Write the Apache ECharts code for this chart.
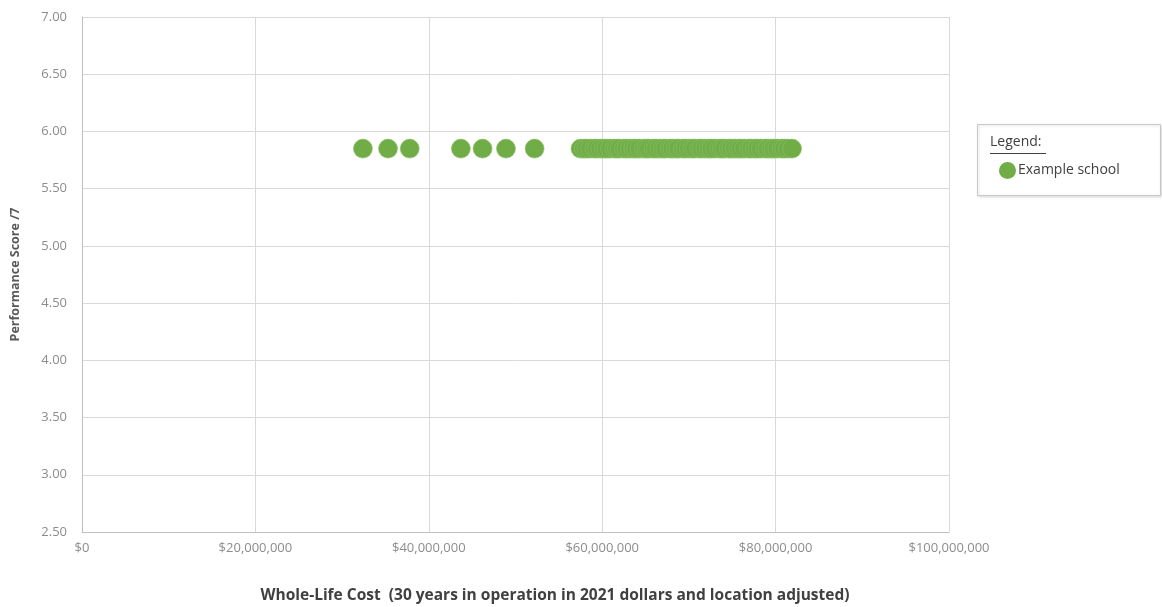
<!DOCTYPE html>
<html>
<head>
<meta charset="utf-8">
<script src="https://cdn.jsdelivr.net/npm/echarts@6/dist/echarts.min.js"></script>
<style>
  html, body { margin: 0; padding: 0; background: #ffffff; }
  #chart { width: 1162px; height: 607px; }
</style>
</head>
<body>
<div id="chart"></div>
<script>
// Whole-life cost (USD) of each design option for the example school
const wholeLifeCost = [
  32400000, 35300000, 37800000,
  43700000, 46200000, 48900000, 52200000,
  57500000, 57900000, 58200000, 58600000, 59100000, 59400000, 59800000, 60200000,
  60500000, 60900000, 61400000, 61700000, 62000000, 62500000, 62800000, 63200000,
  63600000, 63900000, 64300000, 64800000, 65100000, 65400000, 65900000, 66200000,
  66600000, 67000000, 67300000, 67800000, 68100000, 68500000, 68800000, 69300000,
  69600000, 70000000, 70400000, 70700000, 71200000, 71500000, 71900000, 72300000,
  72600000, 73000000, 73500000, 73800000, 74100000, 74600000, 74900000, 75300000,
  75700000, 76000000, 76400000, 76900000, 77200000, 77600000, 77900000, 78300000,
  78800000, 79100000, 79500000, 79800000, 80200000, 80700000, 81000000, 81400000,
  81900000
];
// Performance score (out of 7) for every option
const performanceScore = wholeLifeCost.map(() => 5.85);

const seriesName = 'Example school';
const xTitle = 'Whole-Life Cost  (30 years in operation in 2021 dollars and location adjusted)';
const yTitle = 'Performance Score /7';

const green = '#70AD47';
const font = '"Open Sans", Lato, sans-serif';

const points = wholeLifeCost.map((c, i) => [c, performanceScore[i]]);

const chart = echarts.init(document.getElementById('chart'));
chart.setOption({
  animation: false,
  backgroundColor: '#ffffff',
  grid: { left: 82, right: 213, top: 17, bottom: 75, containLabel: false },
  xAxis: {
    type: 'value',
    min: 0, max: 100000000, interval: 20000000,
    axisLine: { show: true, lineStyle: { color: '#bfbfbf', width: 1 } },
    axisTick: { show: false },
    splitLine: { show: true, lineStyle: { color: '#d9d9d9', width: 1 } },
    axisLabel: {
      margin: 10,
      fontFamily: font, fontSize: 13, color: '#8c8c8c',
      formatter: v => '$' + v.toLocaleString('en-US')
    }
  },
  yAxis: {
    type: 'value',
    min: 2.5, max: 7, interval: 0.5,
    name: yTitle,
    nameLocation: 'middle',
    nameGap: 60,
    nameRotate: 90,
    nameTextStyle: { fontFamily: font, fontSize: 12.5, fontWeight: 'bold', color: '#595959' },
    axisLine: { show: true, lineStyle: { color: '#bfbfbf', width: 1 } },
    axisTick: { show: false },
    splitLine: { show: true, lineStyle: { color: '#d9d9d9', width: 1 } },
    axisLabel: {
      margin: 15,
      fontFamily: font, fontSize: 13, color: '#8c8c8c',
      formatter: v => v.toFixed(2)
    }
  },
  legend: {
    data: [{ name: seriesName, icon: 'circle', itemStyle: { borderWidth: 0 } }],
    left: 994, top: 157,
    itemWidth: 17, itemHeight: 17, itemGap: 4,
    textStyle: { fontFamily: font, fontSize: 14, color: '#404040', padding: [0, 0, 0, -3] }
  },
  graphic: [
    {
      type: 'rect',
      shape: { x: 977.5, y: 124.5, width: 183, height: 71 },
      style: { fill: '#ffffff', stroke: '#c8c8c8', lineWidth: 1,
               shadowColor: 'rgba(0,0,0,0.15)', shadowBlur: 3, shadowOffsetX: 1, shadowOffsetY: 1 },
      z: -1
    },
    {
      type: 'text',
      left: 990, top: 135,
      style: { text: 'Legend:', fontFamily: font, fontSize: 14, fill: '#404040' }
    },
    {
      type: 'line',
      shape: { x1: 990, y1: 153.5, x2: 1046, y2: 153.5 },
      style: { stroke: '#404040', lineWidth: 1 }
    },
    {
      type: 'text',
      x: 555, y: 596,
      style: {
        text: xTitle, fontFamily: font, fontSize: 15.5, fontWeight: 'bold',
        fill: '#404040', align: 'center', verticalAlign: 'middle'
      }
    }
  ],
  series: [{
    name: seriesName,
    type: 'scatter',
    data: points,
    symbol: 'circle',
    symbolSize: 19,
    itemStyle: { color: green, borderColor: '#8cc069', borderWidth: 0.6, opacity: 1 }
  }]
});
</script>
</body>
</html>
